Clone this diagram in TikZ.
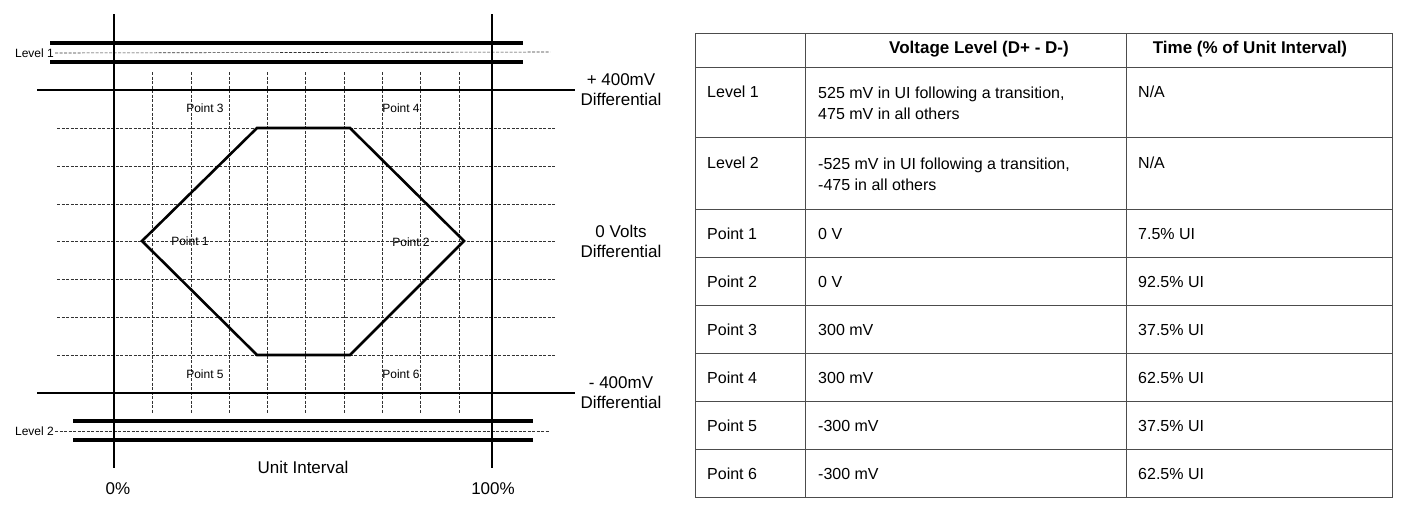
\documentclass[tikz,border=0pt]{standalone}
\usepackage{fontspec}
\setmainfont{Liberation Sans}
\usetikzlibrary{positioning,calc}
\tikzset{
  rail/.style={line width=3.4pt},
  axis/.style={line width=2.4pt},
  gridline/.style={black!80, dash pattern=on 3pt off 1.5pt, line width=0.6pt},
  tiny/.style={font=\fontsize{12}{13}\selectfont, inner sep=1pt},
  side/.style={font=\fontsize{17}{20}\selectfont, align=center, inner sep=0pt},
  cell/.style={font=\fontsize{16}{21}\selectfont, anchor=west, align=left, inner sep=0pt},
  head/.style={font=\fontsize{17}{20}\selectfont\bfseries, inner sep=0pt}
}
\begin{document}
\begin{tikzpicture}[x=1pt,y=-1pt]
  \useasboundingbox (0,0) rectangle (1410,507);
  % grid
  \foreach \y in {128,166,204,241,279,317,355}
    \draw[gridline] (57,\y) -- (555,\y);
  \foreach \x in {152,191,229,267,305,344,382,420,459}
    \draw[gridline] (\x,72) -- (\x,413);
  % level rails
  \node[tiny, anchor=east] (lev1) at (55,53) {Level 1};
  \node[tiny, anchor=east] (lev2) at (55,431) {Level 2};
  \coordinate (l1end) at (550,52);
  \coordinate (l2end) at (550,431);
  \draw[gridline] (lev1.east) -- (l1end);
  \draw[gridline] (lev2.east) -- (l2end);
  \draw[rail] (50,43) -- (523,43);
  \draw[rail] (50,62) -- (523,62);
  \draw[rail] (73,421) -- (533,421);
  \draw[rail] (73,440) -- (533,440);
  % differential lines
  \draw[line width=1.8pt] (37,90) -- (575,90);
  \draw[line width=1.8pt] (37,393) -- (575,393);
  \draw[axis] (114,14) -- (114,468);
  \draw[axis] (492,14) -- (492,468);
  % eye mask
  \coordinate (p1) at (142,241);
  \coordinate (p3) at (257,128);
  \coordinate (p4) at (350,128);
  \coordinate (p2) at (464,241);
  \coordinate (p6) at (350,355);
  \coordinate (p5) at (257,355);
  \draw[line width=2.6pt, line join=miter] (p1) -- (p3) -- (p4) -- (p2) -- (p6) -- (p5) -- cycle;
  \node[tiny] (pt1) at (190,241) {Point 1};
  \node[tiny] (pt2) at (411,242) {Point 2};
  \node[tiny] (pt3) at (205,108) {Point 3};
  \node[tiny] (pt4) at (401,108) {Point 4};
  \node[tiny] (pt5) at (205,374) {Point 5};
  \node[tiny] (pt6) at (401,374) {Point 6};
  \node[side] (pos) at (621,90) {+ 400mV\\Differential};
  \node[side] (zero) at (621,241) {0 Volts\\Differential};
  \node[side] (neg) at (621,393) {- 400mV\\Differential};
  \node[side] (ui) at (303,467) {Unit Interval};
  \node[side] (zp) at (118,489) {0\%};
  \node[side] (hp) at (493,489) {100\%};
  % table
  \draw[line width=0.8pt, black!70] (695,33) rectangle (1392,497);
  \foreach \y in {67,137,209,257,305,353,401,449}
    \draw[line width=0.8pt, black!70] (695,\y) -- (1392,\y);
  \draw[line width=0.8pt, black!70] (805,33) -- (805,497);
  \draw[line width=0.8pt, black!70] (1126,33) -- (1126,497);
  \node[head] (hv) at (979,49) {Voltage Level (D+ - D-)};
  \node[head] (ht) at (1250,49) {Time (\% of Unit Interval)};
  \node[cell] (r1a) at (707,92) {Level 1};
  \node[cell] (r1b) at (818,103) {525 mV in UI following a transition,\\475 mV in all others};
  \node[cell] (r1c) at (1138,92) {N/A};
  \node[cell] (r2a) at (707,163) {Level 2};
  \node[cell] (r2b) at (818,174) {-525 mV in UI following a transition,\\-475 in all others};
  \node[cell] (r2c) at (1138,163) {N/A};
  \foreach \n/\y/\v/\t in {1/234/0 V/7.5\% UI, 2/282/0 V/92.5\% UI, 3/330/300 mV/37.5\% UI,
      4/378/300 mV/62.5\% UI, 5/426/-300 mV/37.5\% UI, 6/474/-300 mV/62.5\% UI} {
    \node[cell] (ra\n) at (707,\y) {Point \n};
    \node[cell] (rb\n) at (818,\y) {\v};
    \node[cell] (rc\n) at (1138,\y) {\t};
  }
\end{tikzpicture}
\end{document}
